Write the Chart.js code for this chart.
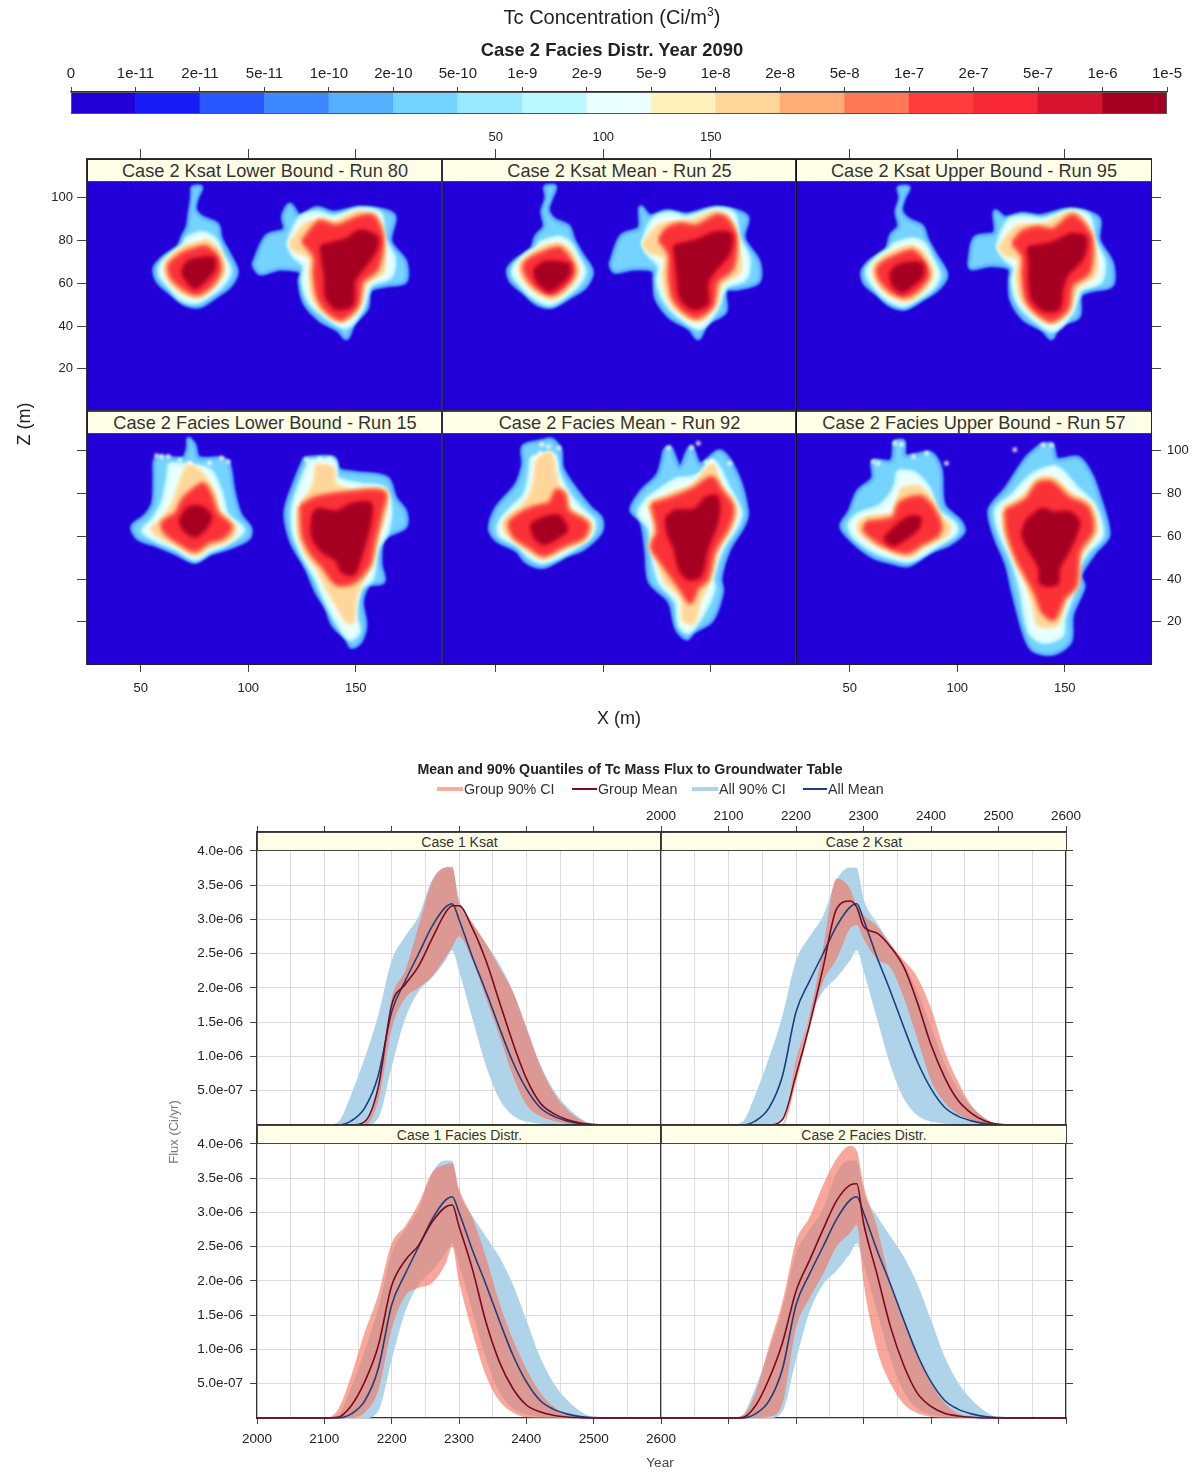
<!DOCTYPE html>
<html>
<head>
<meta charset="utf-8">
<title>Tc Concentration</title>
<script src="https://cdn.jsdelivr.net/npm/chart.js@4/dist/chart.umd.min.js"></script>
<style>
  html, body { margin: 0; padding: 0; background: #fff; }
  #page { position: relative; width: 1196px; height: 1473px; overflow: hidden; font-family: "Liberation Sans", Arial, sans-serif; color: #222; filter: blur(0.5px); }
  #page canvas { position: absolute; }
  .txt { position: absolute; white-space: nowrap; transform: translate(-50%, -50%); }
  .strip { position: absolute; box-sizing: border-box; background: #ffffe8; border: 1px solid #444; text-align: center; color: #333; }
  .swatch { position: absolute; }
</style>
</head>
<body>
<div id="page"></div>
<script>
// colour key
const levelLabels = ['0','1e-11','2e-11','5e-11','1e-10','2e-10','5e-10','1e-9','2e-9','5e-9','1e-8','2e-8','5e-8','1e-7','2e-7','5e-7','1e-6','1e-5'];
const levelColors = ['#2400D8','#181CF7','#2857FF','#3D87FF','#56B0FF','#75D3FF','#99EAFF','#BCF9FF','#EAFFFF','#FFF1BC','#FFD699','#FFAC75','#FF7856','#FF3D3D','#F72735','#D8152F','#A50021'];
const levelBars = [1,1,1,1,1,1,1,1,1,1,1,1,1,1,1,1,1];

const xMeters = [50, 100, 150];
const zMeters = [20, 40, 60, 80, 100];

// plume outlines, [x, z, x, z, ...] in metres
// order inside each plume: outer edge, pale band, orange band, red core, dark core
const ksatLowerLeft = [
  [74,105, 78,105, 76,100, 75,95, 78,91, 85.5,87.5, 87,81, 91,73.5, 94.5,65.5, 91.5,59, 85.5,54.5, 77.5,49.5, 70.5,50.5, 63.5,56, 58,61, 56.5,67, 60.5,72, 67.5,77, 70,82.5, 72,86.5, 73,93.5, 74,100],
  [71.5,81, 78.3,83.5, 84.5,80.4, 87.6,73.4, 91.2,65.6, 86.9,58.5, 80.7,53.9, 76,51.5, 69,53, 63.6,58.5, 59.3,64, 59.7,68.7, 64.4,73.4, 69.8,77.3],
  [80.7,80.4, 86,75.7, 88.7,66.3, 84.5,59.3, 77.6,53.9, 69.8,55.4, 63.6,60.9, 61.3,66.3, 63.6,71.8, 70.6,77.3, 76,78.8],
  [69.8,74, 79.9,76.8, 85,72.6, 86.5,66.3, 82.5,59.3, 76,55.4, 69.8,58, 64.4,63.2, 63.6,68.7],
  [70.6,68.4, 73.7,70.6, 83.3,71.5, 83.8,66.8, 79.9,61.7, 75.2,58.2, 72.1,60.9, 69.8,64.8]
];
const ksatLowerRight = [
  [102.4,68.7, 108.6,82, 117.1,85, 116.3,91.3, 119.4,96.8, 124,91.3, 131.8,95.2, 139.6,92.9, 152,95.2, 167.5,92, 165.9,79.6, 172.9,70.2, 172.9,60.9, 164.4,59.3, 156.6,57, 155,48.4, 148.9,41.4, 145.7,34.4, 141.9,38.3, 133.4,43, 126.4,50.7, 124,60.9, 124.8,65.6, 114.8,67.1, 105.5,64.8],
  [118.6,78.8, 124,90.2, 131.8,92.9, 139.6,90.8, 152,94.4, 161.3,92.4, 162.8,81.2, 167.5,71.8, 165.9,63.2, 156.6,59.3, 152.7,48.4, 145.7,39.8, 136.5,44.5, 128.7,51.5, 125.6,61.7, 126.4,67.9, 121,73.4],
  [119.4,78.8, 127.2,88.2, 139.6,88.6, 152,93.3, 159.7,87.4, 162.8,76.5, 162.8,65.6, 155,60.1, 151.2,48.4, 144.2,42.5, 136.5,46, 130.3,53.1, 128.7,64, 128.7,71.8, 121,75.7],
  [125.6,79.6, 129.5,85, 133.4,88.6, 141.1,86.6, 152,90.8, 158.2,90.8, 162,81.2, 159.7,67.1, 152.7,60.9, 150.4,50, 143.4,43.7, 136.5,47.6, 132.6,53.9, 131,64, 131,72.6],
  [134.1,77.3, 145.8,80.4, 152,84.3, 159.7,81.2, 158.2,74.1, 152,65.6, 148.9,60.9, 148.1,50.3, 141.1,48.4, 136.5,53.9, 136.1,62.4, 134.9,70.2]
];
const ksatMeanLeft = [
  [72.9,105.3, 77.5,105.3, 75.5,99.6, 74,94.4, 77.1,89.7, 83.7,86.6, 86,80.4, 89.9,73.4, 94.6,65.6, 91.5,58.5, 84.5,53.9, 76,49.2, 69,50.7, 62.8,56.2, 57.4,60.9, 55.8,66.3, 58.9,70.2, 66.7,75.7, 69,82, 72.9,86.6, 71.8,93.6, 73.7,99.9],
  [70.6,78.8, 79.1,81.2, 84.2,78.8, 87.3,73.4, 91,65.6, 87.9,59.3, 81.4,53.9, 75.2,50.7, 67.5,53.9, 62,59.3, 58.5,64, 58.9,67.9, 64.4,73.4, 69,76.2],
  [79.1,78.8, 84.5,75.2, 88.4,66.3, 84.5,58.5, 76.8,52.8, 69,55.9, 62.8,62.1, 61.3,67.9, 65.1,72.6, 72.9,77.3],
  [66.7,71.8, 79.1,76.2, 83.7,71.8, 86,65.6, 82.2,59.3, 76,55.4, 69,58.5, 64.4,64, 63.6,68.7],
  [68.2,66.3, 72.9,69.5, 83.3,68.7, 83.7,64.8, 80.6,60.6, 75.2,57, 71.3,59.3, 69,62.4]
];
const ksatMeanRight = [
  [103.4,68.7, 108.5,82, 117,85.8, 117.4,95.5, 121.7,91.3, 129.5,93.6, 138.7,92, 152.7,95.2, 166.7,91.3, 165.1,81.2, 172.1,70.2, 172.1,60.9, 162.8,57.8, 156.6,57, 156.6,46.8, 148.1,41.4, 144.2,34.4, 140.3,39, 131,44.5, 124.8,53.1, 124,60.9, 123.3,66.3, 114,67.1, 105.4,65.6],
  [118.3,78.8, 123.3,89.7, 131,92.4, 138.7,90.5, 152.7,94.4, 160.5,92.4, 162.8,81.2, 167.4,71.8, 165.9,62.4, 156.6,58.5, 152.7,48.4, 145,39.4, 135.7,44.5, 128.7,52.3, 125.6,60.9, 126.4,67.9, 120.9,74.1],
  [118.6,78.8, 126.4,87.4, 138.7,88.6, 152.7,93.3, 159.7,87.4, 162.8,76.5, 163.6,65.6, 155,59.3, 151.2,48.4, 144.2,42.5, 136.4,46, 130.2,53.1, 127.9,64, 128.7,71.8, 120.9,75.2],
  [126.4,80.4, 129.5,85, 135.7,87.4, 143.4,86.6, 152.7,91.3, 157.4,89.7, 161.2,81.2, 159.7,67.1, 152.7,60.9, 150.4,50, 143.4,44.5, 136.4,48.4, 132.6,53.9, 131,64, 131,73.4],
  [133.3,77.3, 145,80.4, 151.9,83.5, 158.9,82.7, 158.1,74.1, 151.2,65.6, 148.1,60.1, 148.1,50.7, 141.9,48.4, 136.4,53.1, 134.9,62.4, 134.1,70.2]
];
const ksatUpperLeft = [
  [72.6,104.9, 77.3,104.9, 75,99.9, 73.7,94, 77.3,89.7, 83.5,86.6, 85.8,80.4, 89.7,73.4, 94.8,64, 91.2,57.8, 84.3,53.1, 75.7,48.4, 68.8,50, 62.6,55.4, 57.1,60.1, 56,65.6, 59.5,70.2, 67.2,75.7, 69.5,82.7, 73.1,86.6, 71.9,93.6, 73.7,99.9],
  [70.3,78, 78.8,80.4, 84.3,78.4, 87.4,72.6, 91.2,64, 88.1,57.8, 81.2,53.1, 75,50, 67.2,53.1, 61.8,58.5, 58.7,63.2, 58.7,67.1, 64.1,72.6, 68.8,75.7],
  [78.8,77.7, 84.3,74.1, 88.6,64.8, 84.3,57, 76.5,51.8, 68.8,54.6, 62.6,60.9, 61,66.3, 64.9,71.8, 72.6,75.7],
  [66.4,70.2, 78.8,74.9, 83.5,70.6, 86.1,64, 81.9,57.8, 75.7,54.3, 68.8,57, 64.1,62.4, 63.3,67.1],
  [69.5,65.6, 73.4,68.4, 82.7,69, 83.5,64, 79.9,60.1, 75,56.5, 71.1,58.5, 69.5,61.7]
];
const ksatUpperRight = [
  [105.6,68.7, 108.3,81.2, 117.6,83.5, 117.6,93.6, 122.2,90.5, 130,92.4, 138.5,91.3, 152.5,94.4, 165.6,90.5, 165.6,80.4, 171.8,69.5, 171.8,59.3, 162.5,57, 157.1,54.6, 156.3,44.5, 147,40.6, 143.9,34.4, 140,38.3, 130.8,43.7, 125.3,52.3, 124.6,60.9, 124.6,67.1, 115.3,68.7, 106.7,67.1],
  [118.7,77.3, 123.8,89, 130.8,90.8, 140,89.7, 152.5,93.6, 161,91.3, 163.3,80.4, 167.9,70.2, 166.4,60.9, 157.1,57, 153.2,46.8, 144.7,38.3, 135.4,43.7, 128.4,51.5, 126.1,60.9, 126.9,67.1, 121.5,72.6],
  [119.6,77.3, 127.7,86.6, 140,87.4, 153.2,92.9, 160.2,86.6, 164.1,75.7, 164.1,64, 155.6,57.8, 151.7,46.8, 143.9,41.4, 137,45.3, 130,52.3, 127.7,63.2, 128.4,71, 121.5,74.1],
  [126.1,78.8, 130,83.5, 137,85.8, 144.7,85, 153.2,91.3, 157.9,88.2, 162,80.4, 161,65.6, 153.2,59.3, 150.9,48.4, 143.9,43, 137,46.8, 132.3,53.1, 130.8,64, 130.8,72.6],
  [133.1,76.5, 144.7,78.8, 153.2,82.7, 159.4,81.2, 157.9,71.8, 150.9,64, 148.6,57.8, 147,48.4, 140.8,47.6, 135.4,52.3, 133.9,60.9, 133.9,69.5]
];
const faciesLowerLeft = [
  [72.1,106, 74.8,102.8, 76.8,96.6, 87.6,96.3, 90.7,94.2, 93,81, 96.1,70.1, 100.8,63.8, 100,59.1, 90,54.5, 82.2,52.1, 75.2,48.2, 66.7,52.1, 57.4,56, 48.9,59.1, 46.2,64.6, 52,69.3, 55.9,75.5, 56.6,87.2, 57.4,96.6, 69.8,96.3, 72.1,101.3],
  [63.6,93.8, 81.4,91.1, 86.9,81, 90,70.1, 97.4,63, 90,56.8, 82.2,53.7, 75.2,49.8, 66.7,54.5, 57.4,58.4, 51.2,62.6, 55.9,67.7, 60.5,76.3, 62.8,87.2],
  [72.1,94.2, 77.6,90.3, 83.8,81, 86.9,70.8, 93.8,64.6, 92.3,59.1, 82.2,55.2, 75.2,51.3, 66.7,56, 57.4,60.7, 55.1,63.8, 60.5,68.5, 65.2,76.3, 69,87.2],
  [73.7,81, 79.1,84.1, 82.2,79.4, 85.3,70.8, 91.5,64.6, 88.4,59.9, 81.4,57.6, 75.2,53.7, 67.5,57.6, 61.3,62.3, 60.5,66.2, 66.7,70.8, 69.8,77.1],
  [68.3,67.3, 72.1,72.9, 77.9,73.5, 82.2,69.3, 79.9,63.8, 75.2,60.4, 70.6,63]
];
const faciesLowerRight = [
  [126.4,96.6, 139.6,96.6, 141.9,91.1, 148.9,89.6, 164.4,87.2, 168.2,77.9, 172.9,71.6, 172.9,64.6, 162.8,59.1, 161.3,47.4, 162.8,38.9, 155.8,37.3, 152.7,29.5, 154.3,18.6, 152,10.8, 148.1,8.4, 145.8,12.3, 139.6,18.6, 136.5,26.4, 131.8,34.2, 127.2,45.1, 120.2,57.6, 117.5,71.6, 122.5,87.2],
  [128.7,95, 139.6,95, 141.1,87.2, 152,84.1, 162.8,82.5, 165.9,74, 164.4,62.3, 159.7,54.5, 157.4,40.4, 152,35.7, 149.6,23.3, 151.2,15.5, 147.3,12.3, 141.9,19.4, 136.5,29.5, 131.8,40.4, 126.4,49.8, 121.7,60.7, 121,73.2, 125.6,87.2],
  [131.8,93.5, 139.6,91.9, 140.3,84.9, 148.9,81, 163.6,80.7, 163.6,71.6, 160.5,60.7, 157.4,48.2, 153.5,40.4, 149.6,29.5, 148.9,20.1, 145.8,20.1, 141.1,27.9, 137.2,34.2, 131.8,45.1, 127.2,51.3, 123.3,62.3, 124,73.2, 130.3,84.1],
  [124.8,74, 131.8,77.9, 147.3,80.2, 162.8,80.2, 161.3,70.1, 158.2,57.6, 155.8,46.7, 148.9,38.9, 141.1,38.1, 134.9,45.9, 129.5,52.1, 125.6,60.7],
  [130.3,70.1, 132.6,72.4, 141.1,71.3, 148.1,74.7, 156.6,75, 155.8,63.8, 152.7,52.9, 148.9,42.8, 144.2,43.5, 141.1,49, 134.1,53.7, 130,60.7]
];
const faciesMeanLeft = [
  [71.4,104.4, 76,105.2, 79.9,100.5, 80.7,91.9, 87.7,81, 93.9,73.2, 98.8,68.5, 98.8,62.3, 90.8,54.5, 83,51.3, 72.2,45.9, 64.4,48.2, 59.7,53.7, 50.5,58.4, 47.4,63.8, 50.5,73.2, 59.7,84.1, 62.9,93.5, 62.9,102],
  [66.7,96.6, 76.8,98.1, 79.1,88.8, 84.6,78.6, 90.8,71.6, 95.4,67, 94.2,60.7, 84.6,53.7, 72.2,48.2, 66,50.6, 60.5,56, 52,60.7, 52,66.2, 56.7,72.4, 63.6,79.4, 66,88.8],
  [69,96.3, 75.3,98.9, 77.6,88.8, 80.7,80.2, 84.6,72.4, 93.9,66.2, 92.3,59.1, 83,55.2, 72.2,49.8, 66,52.9, 60.5,57.6, 54.3,62.3, 54.3,67.7, 62.9,74.7, 66.7,81, 68.3,88.8],
  [62.1,70.8, 67.5,73.2, 75.3,75.5, 78.4,81, 81.5,79.4, 83.3,71.9, 92.3,65.7, 90.4,59.9, 81.5,56, 72.2,51.6, 66,55.2, 59,59.9, 56.7,66.2],
  [66.7,65.4, 70.6,67.7, 79.1,69.3, 82.7,63, 77.6,59.1, 72.2,56.8, 68.3,59.9]
];
const faciesMeanRight = [
  [128.7,100.5, 131,101.6, 135.7,91.9, 140.7,101.6, 145,93.5, 154.3,99.7, 162.1,88.8, 166.7,71.6, 165.2,65.4, 158.2,53.7, 154.3,40.4, 155.1,34.2, 150.4,20.9, 141.9,15.5, 138.8,12.3, 134.2,17, 131,29.5, 121.8,38.9, 120.2,52.9, 117.9,66.9, 113.2,72.4, 117.9,81, 125.6,88.8],
  [121,77.9, 134.2,86.4, 141.1,87.2, 145.8,89.6, 151.2,95, 158.2,82.5, 163.6,71.6, 162.1,65.4, 155.1,54.5, 150.4,40.4, 151.2,35.7, 146.6,24.8, 139.6,15.5, 135.7,18.6, 134.2,29.5, 126.4,38.9, 123.3,51.3, 121.8,63.8, 116.8,70.8],
  [121,75.5, 133.4,80.7, 141.9,84.1, 148.1,91.9, 151.2,93.5, 154.3,84.1, 161.3,74, 160.5,66.2, 153.5,54.5, 149.7,40.4, 145,29.5, 141.9,19.4, 137.3,20.9, 136.5,31, 128.7,38.9, 124.9,49.8, 122.5,56, 124,65.4],
  [123,74.7, 132.6,77.9, 141.9,81.8, 150.4,87.2, 154.3,81.8, 159.7,74, 158.2,65.4, 151.2,52.9, 148.1,40.4, 143.5,35.7, 140.4,29.5, 136.5,35, 132.6,40.4, 127.2,48.2, 123,55.2, 125.6,62.3],
  [129.5,68.5, 133.4,71.6, 142.7,72.4, 148.1,77.9, 153,77.9, 153,67.7, 148.1,54.5, 145,42, 139.6,40.4, 135.7,45.1, 133.4,54.5, 130.3,61.5]
];
const faciesUpperLeft = [
  [71,104.4, 74.9,104.4, 75.7,97.4, 87.3,98.9, 92,91.9, 93.5,74.7, 101.3,66.9, 102.8,62.3, 96.6,56.8, 87.3,52.9, 77.2,46.7, 68.7,48.2, 61,50.6, 51.7,57.6, 46.2,64.6, 50.1,71.6, 54,81, 61,87.2, 61,95, 69.5,95],
  [72.6,90.3, 79.6,89.6, 86.5,82.5, 90.4,72.4, 98.9,65.4, 98.9,61.5, 90.4,56, 78,49, 68.7,50.6, 61,53.7, 52.4,59.9, 50.1,65.4, 54,70.1, 64.1,74, 71,82.5],
  [74.1,82.5, 81.9,83.3, 88.1,77.1, 91.2,70.1, 96.6,64.6, 94.3,59.9, 85.8,56, 77.2,50.6, 67.2,53.7, 58.6,58.4, 54,63, 54.8,67.3, 60.2,69.3, 70.3,70.8, 72.6,77.9],
  [57.9,66.2, 70.3,68.5, 73.7,75.5, 82.7,78.2, 88.1,73.5, 92,64.6, 90.4,60.7, 83.4,56.8, 76.5,52.9, 66.4,56, 60.2,59.9, 57.1,63],
  [66.4,59.1, 71,63.8, 77.2,68.5, 82.3,68.5, 81.4,63.8, 75.7,59.1, 70.3,56.3]
];
const faciesUpperRight = [
  [139.2,102.8, 143.9,102.8, 146.2,95.8, 156.3,96.6, 161.7,89.6, 165.6,79.4, 170.2,60.7, 164,52.9, 157.1,42, 158.6,36.5, 153.2,23.3, 152.4,10.8, 144.7,5.3, 135.4,6.9, 131.5,13.9, 126.1,34.2, 123,47.4, 117.5,60.7, 115.2,72.4, 123,82.5, 132.3,96.6],
  [125.3,78.6, 135.4,88.8, 146.2,91.9, 155.5,82.5, 163.3,74.7, 167.1,60.7, 160.2,52.9, 153.2,40.4, 154,35.7, 149.3,21.7, 148.5,13.9, 140,10.8, 133.8,15.5, 129.9,35, 126.1,48.2, 119.9,62.3, 118.3,72.4],
  [121.4,73.2, 131.5,79.4, 137.7,86.9, 144.7,87.2, 152.4,80.2, 161.7,74.7, 164.8,62.3, 158.6,52.9, 152.4,40.4, 149.3,26.4, 146.2,18.6, 137.7,18.6, 135.4,27.9, 132.3,37.3, 126.9,49.8, 122.2,62.3],
  [122.9,71.9, 132.3,77.1, 137.7,84.4, 143.9,84.9, 151.6,77.9, 160.2,73.5, 162.5,63, 156.3,52.9, 154.7,37.3, 149.3,31.1, 144.7,21.7, 140,24.8, 136.9,32.6, 133.8,38.9, 128.4,49, 123.7,62.3],
  [132.3,67, 139.2,72.4, 144.7,70.8, 152.4,70.8, 156.3,66.2, 152.4,55.2, 147,45.1, 146.2,38.1, 139.2,38.1, 138.5,45.1, 133.8,53.7, 130.7,60.7]
];

// isolated specks near the top of the facies plumes, [x, z, ...] in metres
const faciesLowerSpecks = [57.4,97.8, 59.7,97.4, 62.8,97.4, 68.2,95.8, 72.9,94.2, 82,94.2, 87.6,96.6, 90.7,95, 127.2,95.8, 133.4,96.3, 138,96.3];
const faciesMeanSpecks = [71.4,103.1, 74.5,102, 70.6,98.9, 68.3,96.6, 79.4,101.3, 130.3,101.3, 141.1,101.6, 144.2,103.6, 148.1,94.7, 150.4,95.3, 158.9,94.2];
const faciesUpperSpecks = [71,103.6, 74.1,103.1, 61,95, 63.3,94.2, 79.6,97.4, 85.8,98.9, 95,94.2, 140,102.8, 143.9,102.8, 144.7,91.9, 126.8,100.5];

// flux curves, values in units of 1e-6 Ci/yr
const years = [2000,2100,2120,2140,2160,2180,2200,2220,2240,2260,2280,2290,2300,2320,2340,2360,2380,2400,2420,2440,2460,2480,2500,2520,2600];
const allLow  = [0,0,0,0,0,.1,.85,1.55,1.95,2.15,2.4,2.55,2.25,1.55,.87,.38,.14,.05,.02,.01,0,0,0,0,0];
const allHigh = [0,0,.04,.45,.98,1.6,2.4,2.75,3.05,3.58,3.76,3.75,3.3,2.95,2.65,2.35,1.95,1.43,.9,.52,.27,.1,.01,0,0];
const allMean = [0,0,0,.06,.25,.72,1.65,2.1,2.5,2.9,3.18,3.23,3,2.45,1.95,1.42,.92,.53,.26,.13,.06,.02,.005,0,0];
const case1KsatLow  = [0,0,0,0,0,.35,1.4,1.85,2,2.17,2.45,2.6,2.75,2.4,1.85,1.3,.72,.3,.13,.06,.02,0,0,0,0];
const case1KsatHigh = [0,0,0,0,.02,.55,1.85,2.25,2.9,3.55,3.76,3.77,3.25,2.95,2.65,2.3,1.95,1.42,.88,.48,.23,.08,.01,0,0];
const case1KsatMean = [0,0,0,0,.05,.55,1.75,2.05,2.32,2.72,3.1,3.2,3.2,2.87,2.4,1.8,1.2,.68,.33,.17,.08,.03,.005,0,0];
const case2KsatLow  = [0,0,0,0,0,0,.63,1.41,2.09,2.42,2.87,2.92,2.72,2.42,2.3,1.85,1.25,.65,.33,.16,.07,.03,0,0,0];
const case2KsatHigh = [0,0,0,0,0,.02,.95,1.6,2.58,3.6,3.45,3.2,3.07,2.9,2.63,2.4,2.15,1.7,1.08,.63,.28,.1,.01,0,0];
const case2KsatMean = [0,0,0,0,0,.08,.73,1.46,2.29,3.15,3.27,3.18,2.9,2.8,2.6,2.3,1.78,1.17,.7,.36,.17,.06,.01,0,0];
const case1FaciesLow  = [0,0,0,0,.08,.4,1.3,1.78,1.9,1.97,2.25,2.5,2,1.25,.62,.25,.08,.01,0,0,0,0,0,0,0];
const case1FaciesHigh = [0,0,.12,.62,1.25,1.8,2.55,2.8,3.13,3.58,3.7,3.72,3.35,2.92,2.35,1.68,1.15,.72,.38,.17,.06,.01,0,0,0];
const case1FaciesMean = [0,0,.01,.18,.53,1.05,1.93,2.3,2.52,2.86,3.08,3.11,2.8,2.17,1.4,.82,.43,.19,.09,.04,.015,.005,0,0,0];
const case2FaciesLow  = [0,0,0,0,.02,.22,1.31,1.75,2.1,2.5,2.7,2.82,1.98,1,.5,.2,.07,.02,0,0,0,0,0,0,0];
const case2FaciesHigh = [0,0,.03,.37,1.05,1.7,2.58,2.93,3.4,3.78,3.97,3.9,3.4,2.78,1.97,1.42,.9,.5,.22,.07,.02,0,0,0,0];
const case2FaciesMean = [0,0,.005,.18,.57,1.1,1.85,2.3,2.75,3.17,3.4,3.42,2.85,2.1,1.33,.76,.36,.17,.07,.03,.01,0,0,0,0];

const yearTicks = [2000,2050,2100,2150,2200,2250,2300,2350,2400,2450,2500,2550,2600];
const fluxTicks = [.5,1,1.5,2,2.5,3,3.5,4];
const fluxLabels = ['5.0e-07','1.0e-06','1.5e-06','2.0e-06','2.5e-06','3.0e-06','3.5e-06','4.0e-06'];

const page = document.getElementById('page');
const bandRamps = [
  { rings: [['#2857FF', 4.5], ['#56B0FF', 2.5]], fill: '#75D3FF' },
  { rings: [['#99EAFF', 6], ['#BCF9FF', 3]], fill: '#EAFFFF' },
  { rings: [['#FFF1BC', 4]], fill: '#FFD699' },
  { rings: [['#FFAC75', 9], ['#FF7856', 4.5]], fill: '#FA3238' },
  { rings: [['#F72735', 9], ['#D8152F', 5]], fill: '#A50021' }
];

function addText(text, x, y, css) {
  const d = document.createElement('div');
  d.className = 'txt';
  d.style.cssText = `left:${x}px;top:${y}px;${css || ''}`;
  d.innerHTML = text;
  page.appendChild(d);
  return d;
}

function addStrip(text, x, y, w, h, size) {
  const d = document.createElement('div');
  d.className = 'strip';
  d.style.cssText = `left:${x}px;top:${y}px;width:${w}px;height:${h}px;line-height:${h}px;font-size:${size}px`;
  d.textContent = text;
  page.appendChild(d);
  return d;
}

function addCanvas(x, y, w, h, m) {
  const c = document.createElement('canvas');
  c.width = w + 2 * m;
  c.height = h + 2 * m;
  c.style.left = (x - m) + 'px';
  c.style.top = (y - m) + 'px';
  page.appendChild(c);
  return c;
}

function axis(side, mode, range, values, label, st) {
  const horizontal = side === 'top' || side === 'bottom';
  return {
    type: 'linear',
    axis: horizontal ? 'x' : 'y',
    position: side,
    min: range[0],
    max: range[1],
    offset: false,
    afterBuildTicks(s) { s.ticks = values.map(v => ({ value: v })); },
    afterFit(s) { if (horizontal) s.height = st.margin; else s.width = st.margin; },
    border: { display: true, color: '#333', width: 1.2 },
    grid: {
      offset: false,
      drawOnChartArea: !!st.grid,
      color: st.grid || 'transparent',
      lineWidth: 1,
      drawTicks: mode !== 'none',
      tickLength: st.tickLength,
      tickWidth: 1,
      tickColor: c => (mode !== 'none' && (!c.tick || !st.tickIf || st.tickIf(c.tick.value))) ? '#444' : 'transparent'
    },
    ticks: {
      display: mode === 'label',
      autoSkip: false,
      maxRotation: 0,
      padding: st.padding,
      font: { family: '"Liberation Sans"', size: st.size },
      color: '#222',
      callback: (v, i) => label(v, i)
    }
  };
}

// fills the panel blue and softens the plume bands while they are drawn
const panelBackground = {
  id: 'panelBackground',
  beforeDatasetsDraw(chart, args, opts) {
    if (!opts.color) return;
    const a = chart.chartArea;
    chart.ctx.fillStyle = opts.color;
    chart.ctx.fillRect(a.left, a.top, a.width, a.height);
    chart.ctx.filter = 'blur(1.4px)';
  },
  afterDatasetsDraw(chart, args, opts) {
    if (opts.color) chart.ctx.filter = 'none';
  }
};
Chart.register(panelBackground);

function toPoints(list, close) {
  const pts = [];
  for (let i = 0; i < list.length; i += 2) pts.push({ x: list[i], y: list[i + 1] });
  if (close) pts.push({ x: list[0], y: list[1] });
  return pts;
}

function plumeDatasets(plume) {
  const out = [];
  plume.forEach((outline, k) => {
    const data = toPoints(outline, true);
    const common = { data, showLine: true, pointRadius: 0, tension: 0.3, borderJoinStyle: 'round' };
    bandRamps[k].rings.forEach(r => {
      out.push({ ...common, fill: false, borderColor: r[0], borderWidth: r[1] });
    });
    out.push({ ...common, fill: 'shape', backgroundColor: bandRamps[k].fill, borderColor: bandRamps[k].fill, borderWidth: 1 });
  });
  return out;
}

// colour key
(function () {
  const m = 29;
  const canvas = addCanvas(71, 92, 1096, 22, m);
  new Chart(canvas, {
    type: 'bar',
    data: {
      labels: levelLabels.slice(1),
      datasets: [{ data: levelBars, backgroundColor: levelColors, borderWidth: 0, barPercentage: 1, categoryPercentage: 1 }]
    },
    options: {
      responsive: false,
      animation: false,
      layout: { autoPadding: false, padding: { left: m, right: m, bottom: m, top: 0 } },
      plugins: { legend: { display: false }, tooltip: { enabled: false } },
      scales: {
        x: { type: 'category', display: false },
        y: { min: 0, max: 1, display: false },
        x2: axis('top', 'label', [0, 17], levelLabels.map((l, i) => i), (v, i) => levelLabels[i],
          { margin: m, tickLength: 5, padding: 4, size: 15 })
      }
    }
  });
  const frame = addStrip('', 71, 92, 1096, 22, 1);
  frame.style.background = 'transparent';
  frame.style.borderColor = '#555';
})();

// concentration panels
const heatPanels = [
  { title: 'Case 2 Ksat Lower Bound - Run 80', left: ksatLowerLeft, right: ksatLowerRight, specks: [], x: 87, w: 355, y: 159, h: 252, l: 'label', r: 'none', t: 'tick', b: 'none' },
  { title: 'Case 2 Ksat Mean - Run 25', left: ksatMeanLeft, right: ksatMeanRight, specks: [], x: 442, w: 354, y: 159, h: 252, l: 'none', r: 'none', t: 'label', b: 'none' },
  { title: 'Case 2 Ksat Upper Bound - Run 95', left: ksatUpperLeft, right: ksatUpperRight, specks: [], x: 796, w: 355, y: 159, h: 252, l: 'none', r: 'tick', t: 'tick', b: 'none' },
  { title: 'Case 2 Facies Lower Bound - Run 15', left: faciesLowerLeft, right: faciesLowerRight, specks: faciesLowerSpecks, x: 87, w: 355, y: 411, h: 253, l: 'tick', r: 'none', t: 'none', b: 'label' },
  { title: 'Case 2 Facies Mean - Run 92', left: faciesMeanLeft, right: faciesMeanRight, specks: faciesMeanSpecks, x: 442, w: 354, y: 411, h: 253, l: 'none', r: 'none', t: 'none', b: 'tick' },
  { title: 'Case 2 Facies Upper Bound - Run 57', left: faciesUpperLeft, right: faciesUpperRight, specks: faciesUpperSpecks, x: 796, w: 355, y: 411, h: 253, l: 'none', r: 'label', t: 'none', b: 'label' }
];

heatPanels.forEach(p => {
  const m = 44;
  const canvas = addCanvas(p.x, p.y, p.w, p.h, m);
  const datasets = plumeDatasets(p.left).concat(plumeDatasets(p.right));
  datasets.push({ data: toPoints(p.specks, false), pointRadius: 2.2, pointBackgroundColor: '#FFFFFF', pointBorderWidth: 0, showLine: false });
  datasets.forEach((d, i) => { d.order = -i; d.xAxisID = 'x'; d.yAxisID = 'y'; });
  const xRange = [25, 25 + p.w / 2.15];
  const zRange = [0.3, 0.3 + p.h / 2.1375];
  const num = v => String(v);
  new Chart(canvas, {
    type: 'scatter',
    data: { datasets },
    options: {
      responsive: false,
      animation: false,
      layout: { autoPadding: false, padding: 0 },
      plugins: { legend: { display: false }, tooltip: { enabled: false }, panelBackground: { color: levelColors[0] } },
      scales: {
        x: axis('bottom', p.b, xRange, xMeters, num, { margin: m, tickLength: 8, padding: 9, size: 13 }),
        x2: axis('top', p.t, xRange, xMeters, num, { margin: m, tickLength: 10, padding: 4, size: 13 }),
        y: axis('left', p.l, zRange, zMeters, num, { margin: m, tickLength: 10, padding: 4, size: 13 }),
        y2: axis('right', p.r, zRange, zMeters, num, { margin: m, tickLength: 10, padding: 6, size: 13 })
      }
    }
  });
  addStrip(p.title, p.x, p.y, p.w + 1, 23, 18.2);
});

// lines over the concentration panels
const heatFrame = addStrip('', 87, 159, 1065, 506, 1);
heatFrame.style.background = 'transparent';
heatFrame.style.borderColor = '#222';
[[442, '#2a2a55'], [796, '#111']].forEach(v => {
  const s = document.createElement('div');
  s.className = 'swatch';
  s.style.cssText = `left:${v[0]}px;top:159px;width:1px;height:505px;background:${v[1]}`;
  page.appendChild(s);
});

// flux panels
const fluxPanels = [
  { title: 'Case 1 Ksat', low: case1KsatLow, high: case1KsatHigh, mean: case1KsatMean, x: 257, w: 404, y: 832, l: 'label', r: 'none', t: 'tick', b: 'none' },
  { title: 'Case 2 Ksat', low: case2KsatLow, high: case2KsatHigh, mean: case2KsatMean, x: 661, w: 405, y: 832, l: 'none', r: 'tick', t: 'label', b: 'none' },
  { title: 'Case 1 Facies Distr.', low: case1FaciesLow, high: case1FaciesHigh, mean: case1FaciesMean, x: 257, w: 404, y: 1125, l: 'label', r: 'none', t: 'none', b: 'label' },
  { title: 'Case 2 Facies Distr.', low: case2FaciesLow, high: case2FaciesHigh, mean: case2FaciesMean, x: 661, w: 405, y: 1125, l: 'none', r: 'tick', t: 'none', b: 'tick' }
];

function series(values) { return values.map((v, i) => ({ x: years[i], y: v })); }

fluxPanels.forEach(p => {
  const m = 70;
  const h = 293;
  const canvas = addCanvas(p.x, p.y, p.w, h, m);
  const line = { showLine: true, pointRadius: 0, xAxisID: 'x', yAxisID: 'y', cubicInterpolationMode: 'monotone' };
  const yRange = [0, 4.277];
  const xRange = [2000, 2600];
  const hundreds = v => v % 100 === 0;
  const yearLabel = v => hundreds(v) ? String(v) : '';
  const fluxLabel = (v, i) => fluxLabels[i];
  new Chart(canvas, {
    type: 'scatter',
    data: {
      datasets: [
        { ...line, data: series(allLow), borderWidth: 0.01, borderColor: 'transparent', order: 9 },
        { ...line, data: series(allHigh), fill: '-1', backgroundColor: '#AFD4EA', borderColor: 'transparent', borderWidth: 0.01, order: 8 },
        { ...line, data: series(p.low), borderWidth: 0.01, borderColor: 'transparent', order: 7 },
        { ...line, data: series(p.high), fill: '-1', backgroundColor: 'rgba(245,120,100,.65)', borderColor: 'transparent', borderWidth: 0.01, order: 6 },
        { ...line, data: series(allMean), borderColor: '#1d3f7c', borderWidth: 1.6, order: 5, clip: 3 },
        { ...line, data: series(p.mean), borderColor: '#7a0a20', borderWidth: 1.6, order: 4, clip: 3 }
      ]
    },
    options: {
      responsive: false,
      animation: false,
      layout: { autoPadding: false, padding: 0 },
      plugins: { legend: { display: false }, tooltip: { enabled: false } },
      scales: {
        x: axis('bottom', p.b, xRange, yearTicks, yearLabel, { margin: m, tickLength: 6, padding: 7, size: 13.5, grid: '#dcdcdc', tickIf: hundreds }),
        x2: axis('top', p.t, xRange, yearTicks, yearLabel, { margin: m, tickLength: 6, padding: 2, size: 13.5, tickIf: hundreds }),
        y: axis('left', p.l, yRange, fluxTicks, fluxLabel, { margin: m, tickLength: 7, padding: 7, size: 13.5, grid: '#dcdcdc' }),
        y2: axis('right', p.r, yRange, fluxTicks, fluxLabel, { margin: m, tickLength: 7, padding: 7, size: 13.5 })
      }
    }
  });
  addStrip(p.title, p.x, p.y, p.w + 1, 19, 14);
});

// titles and axis names
addText('Tc Concentration (Ci/m<sup style="font-size:12px;line-height:0">3</sup>)', 612, 17, 'font-size:20px');
addText('Case 2 Facies Distr. Year 2090', 612, 50, 'font-size:18.4px;font-weight:bold');
addText('X (m)', 619, 718, 'font-size:18px');
addText('Z (m)', 24, 424, 'font-size:18px;transform:translate(-50%,-50%) rotate(-90deg)');
addText('Mean and 90% Quantiles of Tc Mass Flux to Groundwater Table', 630, 769, 'font-size:14.2px;font-weight:bold');
addText('Flux (Ci/yr)', 173, 1132, 'font-size:13px;color:#777;transform:translate(-50%,-50%) rotate(-90deg)');
addText('Year', 660, 1462, 'font-size:13.5px;color:#444');

// legend
[
  ['Group 90% CI', 437, 463, 4, '#FFAB9B'],
  ['Group Mean', 572, 597, 2, '#7a0a20'],
  ['All 90% CI', 692, 718, 4, '#AFD4EA'],
  ['All Mean', 803, 827, 2, '#1d3f7c']
].forEach(e => {
  const s = document.createElement('div');
  s.className = 'swatch';
  s.style.cssText = `left:${e[1]}px;top:${789 - e[3] / 2}px;width:${e[2] - e[1]}px;height:${e[3]}px;background:${e[4]}`;
  page.appendChild(s);
  addText(e[0], e[2] + 1, 789, 'font-size:14.3px;color:#333;transform:translate(0,-50%)');
});
</script>
</body>
</html>
